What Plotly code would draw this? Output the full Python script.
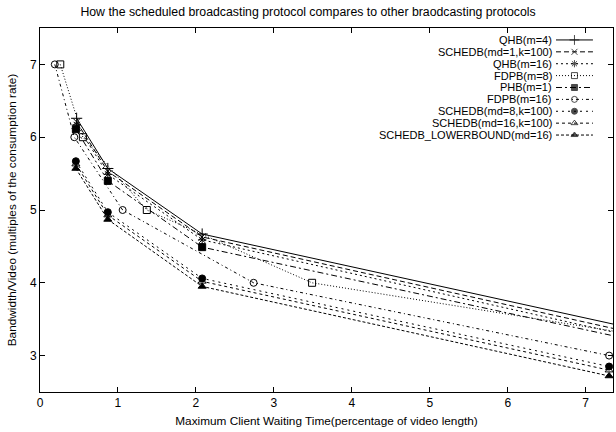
import plotly.graph_objects as go

# ---- data ----
names = ["QHB(m=4)", "SCHEDB(md=1,k=100)", "QHB(m=16)", "FDPB(m=8)", "PHB(m=1)",
         "FDPB(m=16)", "SCHEDB(md=8,k=100)", "SCHEDB(md=16,k=100)",
         "SCHEDB_LOWERBOUND(md=16)"]

qhb4_x = [0.47, 0.87, 2.08, 7.45]
qhb4_y = [6.26, 5.57, 4.67, 3.41]
schedb1_x = [0.47, 0.87, 2.08, 7.45]
schedb1_y = [6.21, 5.53, 4.63, 3.35]
qhb16_x = [0.47, 0.87, 2.08, 7.45]
qhb16_y = [6.17, 5.49, 4.59, 3.30]
fdpb8_x = [0.26, 0.55, 1.37, 3.49, 7.45]
fdpb8_y = [7.0, 6.0, 5.0, 4.0, 3.32]
phb1_x = [0.46, 0.87, 2.08, 7.45]
phb1_y = [6.11, 5.40, 4.49, 3.25]
fdpb16_x = [0.19, 0.44, 1.06, 2.74, 7.3]
fdpb16_y = [7.0, 6.0, 5.0, 4.0, 3.0]
schedb8_x = [0.46, 0.87, 2.08, 7.3]
schedb8_y = [5.67, 4.97, 4.06, 2.85]
schedb16_x = [0.46, 0.87, 2.08, 7.3]
schedb16_y = [5.63, 4.93, 4.02, 2.80]
lower_x = [0.46, 0.87, 2.08, 7.3]
lower_y = [5.57, 4.87, 3.95, 2.72]

x_ticks = [0, 1, 2, 3, 4, 5, 6, 7]
y_ticks = [3, 4, 5, 6, 7]

series_x = [qhb4_x, schedb1_x, qhb16_x, fdpb8_x, phb1_x, fdpb16_x, schedb8_x, schedb16_x, lower_x]
series_y = [qhb4_y, schedb1_y, qhb16_y, fdpb8_y, phb1_y, fdpb16_y, schedb8_y, schedb16_y, lower_y]

# ---- styles ----
dashes = ["solid", "5px,3px", "2px,3px", "1px,2px", "6px,3px,2px,3px",
          "3px,3px,1px,3px", "2px,4px", "3px,3px", "3px,2px"]
symbols = ["cross-thin", "x-thin", "asterisk", "square-open", "square",
           "circle-open", "circle", "triangle-up-open", "triangle-up"]
sizes = [8, 7, 7, 7, 7, 7, 7, 7, 7]
FONT = "Liberation Sans, Arial, sans-serif"

KEY_X0, KEY_X1 = 0.9005, 0.965

fig = go.Figure()
for i in range(len(names)):
    fig.add_trace(go.Scatter(
        x=series_x[i], y=series_y[i], mode="lines+markers", name=names[i],
        line=dict(color="black", width=1, dash=dashes[i]),
        marker=dict(symbol=symbols[i], size=sizes[i], color="black",
                    line=dict(color="black", width=1)),
        showlegend=False, xaxis="x", yaxis="y", cliponaxis=True))

# gnuplot-style key: samples on a small overlay axis, one row per series
for i in range(len(names)):
    fig.add_trace(go.Scatter(
        x=[0, 0.5, 1], y=[i, i, i], mode="lines+markers",
        line=dict(color="black", width=1, dash=dashes[i]),
        marker=dict(symbol=symbols[i], size=[0, sizes[i] - 1, 0], color="black",
                    line=dict(color="black", width=1)),
        showlegend=False, hoverinfo="skip", xaxis="x2", yaxis="y2"))
    fig.add_annotation(x=KEY_X0 - 0.004, y=i, xref="paper", yref="y2", text=names[i],
                       showarrow=False, xanchor="right", yanchor="middle",
                       font=dict(family=FONT, size=11, color="black"))

axis_common = dict(showline=True, linecolor="black", linewidth=1, mirror="ticks",
                   ticks="inside", ticklen=5, tickcolor="black", showgrid=False,
                   zeroline=False, tickfont=dict(family=FONT, size=12, color="black"))

fig.update_layout(
    width=616, height=432,
    margin=dict(l=40, r=3, t=28, b=40),
    paper_bgcolor="white", plot_bgcolor="rgba(0,0,0,0)",
    title=dict(text="How the scheduled broadcasting protocol compares to other braodcasting protocols",
               x=0.5, xanchor="center", y=0.972, yanchor="middle", yref="container",
               font=dict(family=FONT, size=12.3, color="black")),
    xaxis=dict(range=[0, 7.35], tickvals=x_ticks, domain=[0, 1],
               title=dict(text="Maximum Client Waiting Time(percentage of video length)",
                          font=dict(family=FONT, size=11.8, color="black"), standoff=7),
               **axis_common),
    yaxis=dict(range=[2.5, 7.5], tickvals=y_ticks, domain=[0, 1],
               title=dict(text="Bandwidth/Video (multiples of the consumption rate)",
                          font=dict(family=FONT, size=11.8, color="black"), standoff=10),
               **axis_common),
    xaxis2=dict(domain=[KEY_X0, KEY_X1], range=[0, 1], visible=False, anchor="y2",
                fixedrange=True),
    yaxis2=dict(domain=[0.6896, 0.9835], range=[8.5, -0.5], visible=False, anchor="x2",
                fixedrange=True),
)

fig.write_html("out.html", config={"displayModeBar": False},
               post_script="document.body.style.margin='0';")
